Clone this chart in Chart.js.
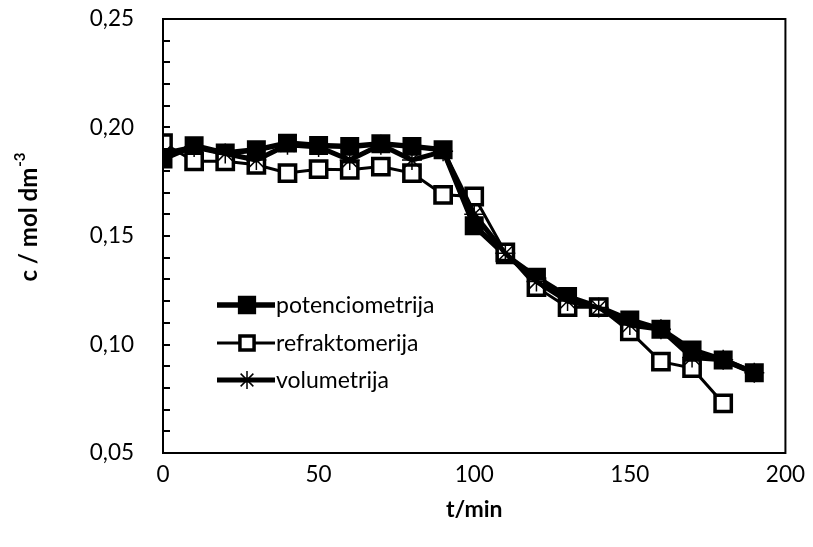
<!DOCTYPE html>
<html>
<head>
<meta charset="utf-8">
<script src="https://cdn.jsdelivr.net/npm/chart.js@4.4.1/dist/chart.umd.min.js"></script>
<style>
  html, body { margin: 0; padding: 0; background: #fff; }
  #wrap { width: 813px; height: 547px; }
</style>
</head>
<body>
<div id="wrap"><canvas id="chart" width="813" height="547"></canvas></div>
<script>
var tPot = [0, 10, 20, 30, 40, 50, 60, 70, 80, 90, 100, 110, 120, 130, 140, 150, 160, 170, 180, 190];
var cPot = [0.1855, 0.1916, 0.1882, 0.1897, 0.1928, 0.1917, 0.1913, 0.1925, 0.1913, 0.1897,
            0.1547, 0.1413, 0.131, 0.1221, 0.1172, 0.1113, 0.107, 0.0975, 0.0929, 0.087];

var tRef = [0, 10, 20, 30, 40, 50, 60, 70, 80, 90, 100, 110, 120, 130, 140, 150, 160, 170, 180];
var cRef = [0.1928, 0.1844, 0.1844, 0.1828, 0.179, 0.1808, 0.1805, 0.182, 0.179, 0.169,
            0.1682, 0.1424, 0.1264, 0.1172, 0.1172, 0.106, 0.0921, 0.0891, 0.0729];

var tVol = [0, 10, 20, 30, 40, 50, 60, 70, 80, 90, 100, 110, 120, 130, 140, 150, 160, 170, 180, 190];
var cVol = [0.188, 0.191, 0.188, 0.185, 0.192, 0.191, 0.185, 0.192, 0.185, 0.189,
            0.160, 0.142, 0.129, 0.12, 0.117, 0.109, 0.107, 0.094, 0.093, 0.087];

var seriesNames = ['potenciometrija', 'refraktomerija', 'volumetrija'];
var yTitle = 'c / mol dm';
var yTitleSup = '-3';
var xTitle = 't/min';

var FONT = 'Lato, "Open Sans", sans-serif';

function toPoints(xs, ys) {
  return xs.map((x, i) => ({ x: x, y: ys[i] }));
}

// inner ticks, frame, y title and the legend inside the plot
var decor = {
  id: 'decor',
  afterDraw(chart) {
    var ctx = chart.ctx;
    var area = chart.chartArea;
    var y = chart.scales.y;
    ctx.save();
    ctx.strokeStyle = '#000';
    ctx.lineWidth = 2;
    ctx.strokeRect(area.left, area.top, area.right - area.left, area.bottom - area.top);
    ctx.beginPath();
    y.ticks.forEach(t => {
      var py = Math.round(y.getPixelForValue(t.value));
      ctx.moveTo(area.left, py);
      ctx.lineTo(area.left + 7, py);
    });
    ctx.stroke();

    // y axis title with superscript
    ctx.translate(29, 217);
    ctx.rotate(-Math.PI / 2);
    ctx.fillStyle = '#000';
    ctx.textBaseline = 'middle';
    ctx.font = 'bold 24px ' + FONT;
    var w1 = ctx.measureText(yTitle).width;
    ctx.font = 'bold 15px ' + FONT;
    var w2 = ctx.measureText(yTitleSup).width;
    var start = -(w1 + w2 + 1) / 2;
    ctx.textAlign = 'left';
    ctx.font = 'bold 24px ' + FONT;
    ctx.fillText(yTitle, start, 0);
    ctx.font = 'bold 15px ' + FONT;
    ctx.fillText(yTitleSup, start + w1 + 1, -9);
    ctx.restore();

    // legend
    ctx.save();
    var lx = 217;
    var rows = [305, 343, 380];
    chart.data.datasets.forEach((ds, i) => {
      var ry = rows[ds.legendRow];
      ctx.strokeStyle = '#000';
      ctx.lineWidth = ds.borderWidth;
      ctx.beginPath();
      ctx.moveTo(lx, ry);
      ctx.lineTo(lx + 58, ry);
      ctx.stroke();
      ctx.fillStyle = ds.pointBackgroundColor;
      ctx.strokeStyle = '#000';
      ctx.lineWidth = ds.pointBorderWidth;
      Chart.helpers.drawPoint(ctx, {
        pointStyle: ds.pointStyle,
        radius: ds.legendRadius,
        rotation: 0,
        borderWidth: ds.pointBorderWidth
      }, lx + 30, ry);
      ctx.fillStyle = '#000';
      ctx.font = '23px ' + FONT;
      ctx.textAlign = 'left';
      ctx.textBaseline = 'middle';
      ctx.fillText(ds.label, lx + 59, ry + 1);
    });
    ctx.restore();
  }
};

var data = {
  datasets: [
    {
      label: seriesNames[2],
      legendRow: 2,
      legendRadius: 9,
      data: toPoints(tVol, cVol),
      showLine: true,
      borderColor: '#000',
      borderWidth: 5,
      pointStyle: 'star',
      pointRadius: 10,
      pointBorderWidth: 1.5,
      pointBorderColor: '#000',
      pointBackgroundColor: '#000',
      order: 0
    },
    {
      label: seriesNames[1],
      legendRow: 1,
      legendRadius: 10,
      data: toPoints(tRef, cRef),
      showLine: true,
      borderColor: '#000',
      borderWidth: 3,
      pointStyle: 'rect',
      pointRadius: 11.5,
      pointBorderWidth: 3.5,
      pointBorderColor: '#000',
      pointBackgroundColor: '#fff',
      order: 1
    },
    {
      label: seriesNames[0],
      legendRow: 0,
      legendRadius: 11.5,
      data: toPoints(tPot, cPot),
      showLine: true,
      borderColor: '#000',
      borderWidth: 5.5,
      pointStyle: 'rect',
      pointRadius: 12,
      pointBorderWidth: 2,
      pointBorderColor: '#000',
      pointBackgroundColor: '#000',
      order: 2
    }
  ]
};

var options = {
  responsive: false,
  animation: false,
  layout: { padding: { top: 19, right: 25, left: 0, bottom: 0 } },
  plugins: { legend: { display: false }, tooltip: { enabled: false } },
  scales: {
    x: {
      type: 'linear',
      min: 0,
      max: 200,
      afterFit(scale) { scale.height = 94; },
      grid: { display: false, drawTicks: false },
      border: { display: false },
      ticks: {
        stepSize: 50,
        padding: 8,
        color: '#000',
        font: { family: FONT, size: 22.5 }
      },
      title: {
        display: true,
        text: xTitle,
        color: '#000',
        font: { family: FONT, size: 23, weight: 'bold' },
        padding: { top: 0, bottom: 24 }
      }
    },
    y: {
      type: 'linear',
      min: 0.05,
      max: 0.25,
      afterFit(scale) {
        scale.width = 163;
        scale.paddingTop = 0;
        scale.paddingBottom = 0;
      },
      grid: { display: false, drawTicks: false },
      border: { display: false },
      ticks: {
        stepSize: 0.01,
        autoSkip: false,
        padding: 29,
        color: '#000',
        font: { family: FONT, size: 22.5 },
        callback: function(v) {
          var k = Math.round(v * 100);
          return k % 5 === 0 ? (k / 100).toFixed(2).replace('.', ',') : '';
        }
      }
    }
  }
};

new Chart(document.getElementById('chart').getContext('2d'), {
  type: 'scatter',
  data: data,
  options: options,
  plugins: [decor]
});
</script>
</body>
</html>
